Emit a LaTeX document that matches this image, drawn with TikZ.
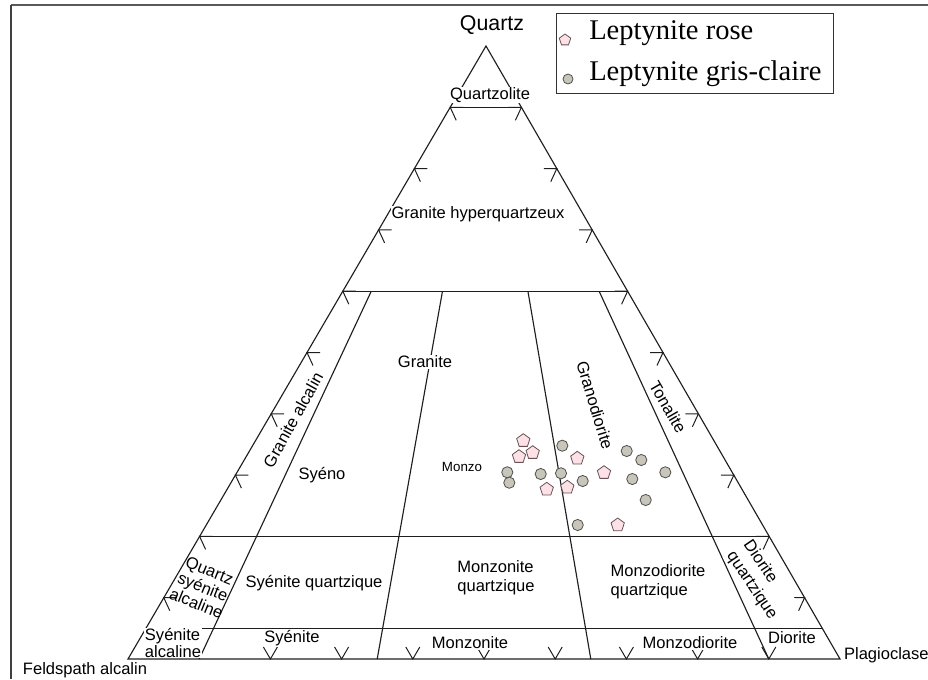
\documentclass[tikz,border=0pt]{standalone}
\usepackage{fontspec}
\setmainfont{Liberation Sans}
\newfontfamily\legendfont{Liberation Serif}
\usetikzlibrary{calc,shapes.geometric}
\definecolor{pentfill}{RGB}{252,226,231}
\definecolor{pentdraw}{RGB}{105,80,85}
\definecolor{dotfill}{RGB}{200,197,186}
\definecolor{dotdraw}{RGB}{80,80,75}
\definecolor{inkline}{RGB}{30,30,30}
\begin{document}
\begin{tikzpicture}[x=0.75pt,y=-0.75pt,
  edge/.style={line width=0.85pt, inkline},
  tickmark/.style={line width=0.75pt, inkline},
  lab/.style={font=\fontsize{12.4}{14.25}\selectfont, fill=white, inner sep=0.6pt},
  pent/.style={regular polygon, regular polygon sides=5, draw=pentdraw, fill=pentfill, line width=0.6pt, minimum size=10.5pt, inner sep=0pt},
  dot/.style={circle, draw=dotdraw, fill=dotfill, line width=0.6pt, minimum size=8.4pt, inner sep=0pt}]
\useasboundingbox (0,0) rectangle (928,679);
% frame
\coordinate (fTL) at (11,5);
\coordinate (fTR) at (928,5);
\coordinate (fBL) at (11,679);
\draw[gray!70!black, line width=1.1pt] (fTL) -- (fTR);
\draw[black!75, line width=1.5pt] (fTL) -- (fBL);
% triangle
\coordinate (A) at (128,659);
\coordinate (B) at (840,659);
\coordinate (Q) at (486,46);
\draw[edge] (A) -- (B) -- (Q) -- cycle;
% horizontal lines
\foreach \n/\q in {90/0.9,60/0.6,20/0.2,05/0.05}{
  \coordinate (L\n) at ($(A)!\q!(Q)$);
  \coordinate (R\n) at ($(B)!\q!(Q)$);
  \draw[edge] (L\n) -- (R\n);
}
% radial lines
\foreach \n/\p in {10/0.1,35/0.35,65/0.65,90/0.9}{
  \coordinate (b\n) at ($(A)!\p!(B)$);
  \coordinate (t\n) at ($(b\n)!0.6!(Q)$);
  \draw[edge] (b\n) -- (t\n);
}
% edge marks
\foreach \k in {1,...,9}{
  \coordinate (ml\k) at ($(A)!\k/10!(Q)$);
  \coordinate (mr\k) at ($(B)!\k/10!(Q)$);
  \draw[tickmark] ($(ml\k)+(13,0)$) -- (ml\k) -- ($(ml\k)+(6,13)$);
  \draw[tickmark] ($(mr\k)+(-13,0)$) -- (mr\k) -- ($(mr\k)+(-6,13)$);
}
\foreach \k in {2,...,9}{
  \coordinate (v\k) at ($(A)!\k/10!(B)$);
  \draw[tickmark] ($(v\k)+(-7,-12)$) -- (v\k) -- ($(v\k)+(7,-12)$);
}
% labels
\node[font=\fontsize{16}{18}\selectfont] (quartz) at (492,25) {Quartz};
\node[lab] (qzl) at (490,95) {Quartzolite};
\node[lab] (ghq) at (478,214) {Granite hyperquartzeux};
\node[lab] (gra) at (425,362) {Granite};
\node[lab, rotate=61] (galc) at (293,420) {Granite alcalin};
\node[lab] (syeno) at (322,475) {Syéno};
\node[lab, font=\fontsize{10}{12}\selectfont] (monzo) at (462,467) {Monzo};
\node[lab, rotate=-73] (grd) at (595,405) {Granodiorite};
\node[lab, rotate=-60] (ton) at (668,407) {Tonalite};
\node[lab] (syq) at (314,583) {Syénite quartzique};
\node[lab, rotate=-22, align=center, font=\fontsize{12.4}{13.2}\selectfont, fill=none] (qsa) at (203,587) {Quartz\\syénite\\alcaline};
\node[lab, align=left, font=\fontsize{12.4}{12.75}\selectfont] (sa) at (173,643) {Syénite\\alcaline};
\node[lab] (sy) at (292,638) {Syénite};
\node[lab, align=left] (mzq) at (496,578) {Monzonite\\quartzique};
\node[lab] (mz) at (470,643) {Monzonite};
\node[lab, align=left] (mzdq) at (658,582) {Monzodiorite\\quartzique};
\node[lab] (mzd) at (690,643) {Monzodiorite};
\node[lab, rotate=-56, align=left, font=\fontsize{12.4}{15}\selectfont] (dq) at (760,580) {Diorite\\quartzique};
\node[lab] (dio) at (792,638) {Diorite};
\node[lab, anchor=west] (plag) at (843,655) {Plagioclase};
\node[lab] (feld) at (85,670) {Feldspath alcalin};
% data: Leptynite rose
\foreach \i/\x/\y in {1/523.3/440.7,2/519/456.7,3/532.7/452.7,4/577.3/458.3,5/604/472.7,6/546.7/489.3,7/567.3/487.3,8/617.7/525}{
  \node[pent] (p\i) at (\x,\y) {};
}
% data: Leptynite gris-claire
\foreach \i/\x/\y in {1/562.3/445.7,2/507.3/472.3,3/509.3/482.7,4/540.7/474,5/561/473.3,6/582.7/481,7/626.7/451,8/641.3/460,9/665.3/472.3,10/632.3/479,11/645.7/500,12/577.7/525}{
  \node[dot] (g\i) at (\x,\y) {};
}
% legend
\node[draw=black!80, line width=0.6pt, fill=white, inner sep=0pt, minimum width=207.75pt, minimum height=60pt, anchor=north west] (legend) at (556,13) {};
\node[pent, minimum size=9pt] (lp) at (565,40) {};
\node[dot, minimum size=7.5pt] (lg) at (568,79) {};
\node[anchor=base west, inner sep=0pt, font=\legendfont\fontsize{21.4}{24}\selectfont] (lt1) at (589,39.3) {Leptynite rose};
\node[anchor=base west, inner sep=0pt, font=\legendfont\fontsize{21.4}{24}\selectfont] (lt2) at (589,80) {Leptynite gris-claire};
\end{tikzpicture}
\end{document}
